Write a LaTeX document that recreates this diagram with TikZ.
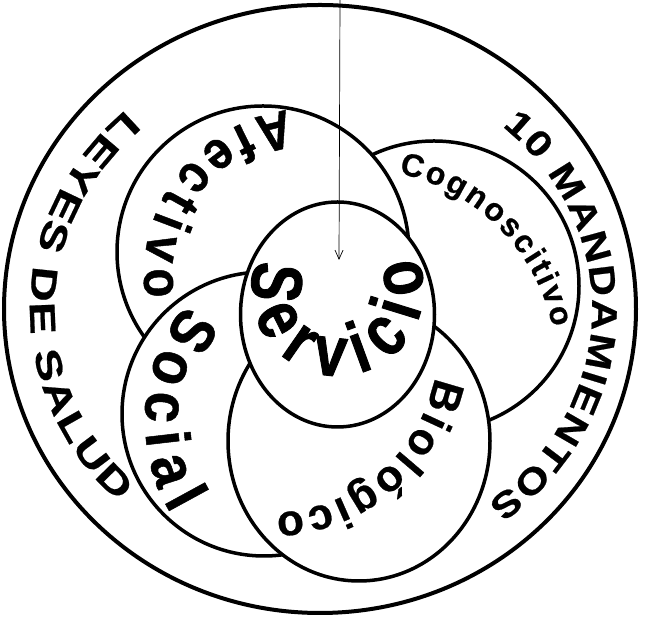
\documentclass[tikz,border=0pt]{standalone}
\usepackage{fontspec}
\usetikzlibrary{decorations.text,arrows.meta}
\newfontfamily\fWide[FakeStretch=1.35,FakeBold=0.6]{Liberation Sans}
\newfontfamily\fMidWide[FakeStretch=1.2,FakeBold=0.6]{Liberation Sans}
\newfontfamily\fNarrow[FakeStretch=0.9,FakeBold=0.8]{Liberation Sans}
\newfontfamily\fAfec[FakeStretch=0.88,FakeBold=0.8]{Liberation Sans}
\newfontfamily\fServ[FakeStretch=0.8,FakeBold=1.2]{Liberation Sans}
\newfontfamily\fMid[FakeStretch=1.0,FakeBold=0.6]{Liberation Sans}
\newcommand\ftLeyes{\fWide\bfseries\fontsize{36}{36}\selectfont}
\newcommand\ftMand{\fMidWide\bfseries\fontsize{36}{36}\selectfont}
\newcommand\ftAfec{\fAfec\bfseries\fontsize{54}{54}\selectfont}
\newcommand\ftSoc{\fNarrow\bfseries\fontsize{62}{62}\selectfont}
\newcommand\ftServ{\fServ\bfseries\fontsize{72}{72}\selectfont}
\newcommand\ftCog{\fMid\bfseries\fontsize{32}{32}\selectfont}
\newcommand\ftBio{\fMid\bfseries\fontsize{44}{44}\selectfont}
\begin{document}
\begin{tikzpicture}[x=1pt,y=1pt,
  ring/.style={draw=black, line width=3.5pt, fill=white},
  arctext/.style={decorate, decoration={text along path, text align=fit to path, text={#1}}}]
\useasboundingbox (0,0) rectangle (646,620);
% circle centres
\coordinate (C0) at (320,311);
\coordinate (Caf) at (263,368);
\coordinate (Cco) at (434,334);
\coordinate (Cso) at (264,206);
\coordinate (Cbi) at (359,179);
\coordinate (Cse) at (337.5,305.5);
% text-path centres
\coordinate (Taf) at (310,345);
\coordinate (Tco) at (357,251);
\coordinate (Tso) at (328,200);
\coordinate (Tbi) at (270,275);
\coordinate (Tse) at (337.5,330);
% arrow ends
\coordinate (Atop) at (340,620);
\coordinate (Atip) at (339,360);
% circles
\path[ring, line width=4pt] (C0) ellipse[x radius=316pt, y radius=304pt];
\path[ring] (Cco) circle[radius=145pt];
\path[ring] (Caf) circle[radius=146pt];
\path[ring] (Cso) circle[radius=142pt];
\path[ring] (Cbi) ellipse[x radius=131pt, y radius=140pt];
\path[ring] (Cse) ellipse[x radius=97pt, y radius=112.5pt];
% texts
\path[arctext={|\ftLeyes|LEYES DE SALUD}]
  ([shift={(C0)}]132:290pt and 268pt) arc[start angle=132, end angle=226, x radius=290pt, y radius=268pt];
\path[arctext={|\ftMand|10 MANDAMIENTOS}]
  ([shift={(C0)}]48:272pt and 246pt) arc[start angle=48, end angle=-52, x radius=272pt, y radius=246pt];
\path[arctext={|\ftAfec|Afectivo}]
  ([shift={(Taf)}]98:166pt) arc[start angle=98, end angle=188, radius=166pt];
\path[arctext={|\ftCog|Cognoscitivo}]
  ([shift={(Tco)}]78:200pt) arc[start angle=78, end angle=12, radius=200pt];
\path[arctext={|\ftSoc|Social}]
  ([shift={(Tso)}]141:183pt) arc[start angle=141, end angle=211, radius=183pt];
\path[arctext={|\ftBio|Biológico}]
  ([shift={(Tbi)}]-11:168pt) arc[start angle=-11, end angle=-88, radius=168pt];
\path[arctext={|\ftServ|Servicio}]
  ([shift={(Tse)}]160:86pt) arc[start angle=160, end angle=382, radius=86pt];
% arrow
\draw[line width=0.7pt, -{Straight Barb[length=9pt,width=8pt]}] (Atop) -- (Atip);
\end{tikzpicture}
\end{document}
